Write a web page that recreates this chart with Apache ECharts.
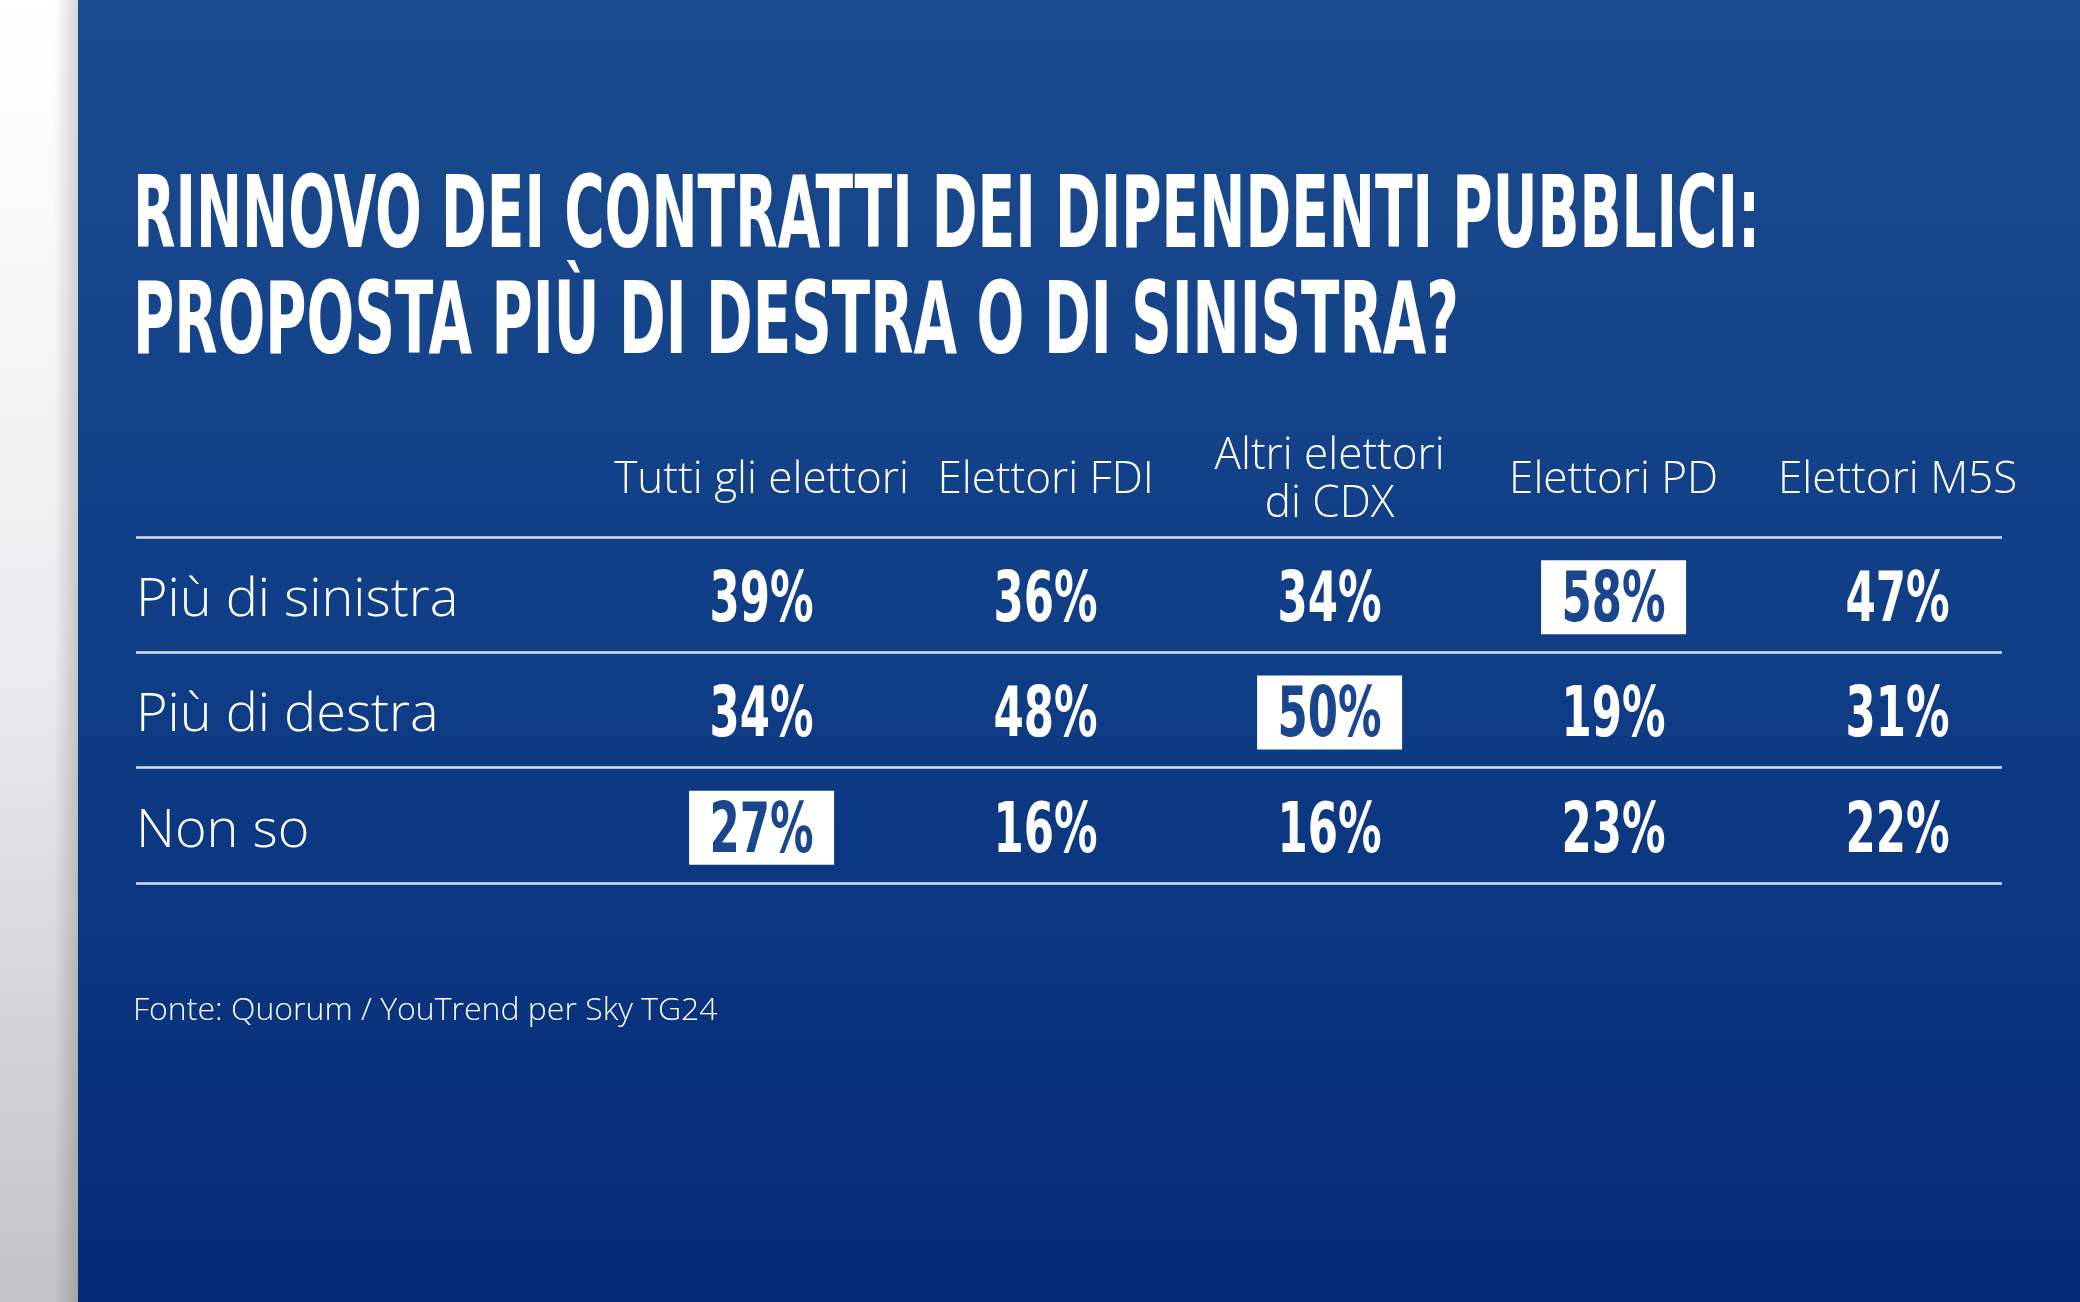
<!DOCTYPE html>
<html>
<head>
<meta charset="utf-8">
<script src="https://cdn.jsdelivr.net/npm/echarts@6/dist/echarts.min.js"></script>
<style>
html,body{margin:0;padding:0;background:#fff;}
#chart{width:2080px;height:1302px;}
</style>
</head>
<body>
<div id="chart"></div>
<script>
// ---- data ----
const titleLines = ['RINNOVO DEI CONTRATTI DEI DIPENDENTI PUBBLICI:', 'PROPOSTA PIÙ DI DESTRA O DI SINISTRA?'];
const groups = ['Tutti gli elettori', 'Elettori FDI', 'Altri elettori\ndi CDX', 'Elettori PD', 'Elettori M5S'];
const answers = ['Più di sinistra', 'Più di destra', 'Non so'];
const piuDiSinistra = [39, 36, 34, 58, 47];
const piuDiDestra = [34, 48, 50, 19, 31];
const nonSo = [27, 16, 16, 23, 22];
const sourceText = 'Fonte: Quorum / YouTrend per Sky TG24';

// ---- build ----
const rows = [piuDiSinistra, piuDiDestra, nonSo];
const cells = [];
rows.forEach(function (vals, r) {
  const mx = Math.max.apply(null, vals);
  vals.forEach(function (v, c) {
    cells.push([c, r, v, v === mx ? 1 : 0]);
  });
});

const condFont = '"DejaVu Sans Condensed", "Liberation Sans Narrow", sans-serif';
const textFont = '"Open Sans", "Noto Sans", sans-serif';

const cv = document.createElement('canvas').getContext('2d');
function measure(txt, font) { cv.font = font; return cv.measureText(txt).width; }

const titleFont = 'bold 100px ' + condFont;
const t1Scale = 1627 / measure(titleLines[0], titleFont);
const t2Scale = 1326 / measure(titleLines[1], titleFont);
const valFont = 'bold 70px ' + condFont;
const valScale = 312 / (measure('39%', valFont) + measure('58%', valFont) + measure('47%', valFont));

const chart = echarts.init(document.getElementById('chart'), null, { renderer: 'canvas' });

const option = {
  animation: false,
  backgroundColor: '#ffffff',
  graphic: [
    { type: 'rect', z: -10, shape: { x: 0, y: 0, width: 80, height: 1302 },
      style: { fill: { type: 'linear', x: 0, y: 0, x2: 0, y2: 1, colorStops: [
        { offset: 0, color: '#ffffff' }, { offset: 0.5, color: '#ececee' }, { offset: 1, color: '#c3c3c7' }] } } },
    { type: 'rect', z: -9, shape: { x: 54, y: 0, width: 24, height: 1302 },
      style: { fill: { type: 'linear', x: 0, y: 0, x2: 1, y2: 0, colorStops: [
        { offset: 0, color: 'rgba(0,0,0,0)' }, { offset: 1, color: 'rgba(0,0,0,0.16)' }] } } },
    { type: 'rect', z: -8, shape: { x: 78, y: 0, width: 2002, height: 1302 },
      style: { fill: { type: 'linear', x: 0, y: 0, x2: 0, y2: 1, colorStops: [
        { offset: 0, color: '#1b4b8e' }, { offset: 0.5, color: '#0f3d86' }, { offset: 1, color: '#052b77' }] } } },
    { type: 'text', z: 10, x: 133, y: 221, scaleX: t1Scale,
      style: { text: titleLines[0], x: 0, y: 0, font: titleFont, fill: '#ffffff', textAlign: 'left', textVerticalAlign: 'middle' } },
    { type: 'text', z: 10, x: 133, y: 327, scaleX: t2Scale,
      style: { text: titleLines[1], x: 0, y: 0, font: titleFont, fill: '#ffffff', textAlign: 'left', textVerticalAlign: 'middle' } },
    { type: 'text', z: 10, x: 133, y: 1011,
      style: { text: sourceText, x: 0, y: 0, font: '350 32px ' + textFont, fill: '#ffffff', textAlign: 'left', textVerticalAlign: 'middle' } }
  ],
  grid: [
    { left: 136, right: 78, top: 537, height: 346, containLabel: false },
    { left: 619.6, width: 1420, top: 537, height: 346, containLabel: false }
  ],
  xAxis: [
    { gridIndex: 0, type: 'value', min: 0, max: 1, show: false },
    { gridIndex: 1, type: 'category', data: groups, position: 'top', z: 3,
      axisLine: { show: false }, axisTick: { show: false }, splitLine: { show: false },
      axisLabel: { interval: 0, margin: 57, color: '#ffffff', fontFamily: textFont, fontWeight: 300, fontSize: 44, lineHeight: 48,
        verticalAlign: 'middle', align: 'center' } }
  ],
  yAxis: [
    { gridIndex: 0, type: 'category', data: answers, inverse: true, z: 3,
      axisLine: { show: false }, axisTick: { show: false },
      splitLine: { show: true, lineStyle: { color: '#d3e0f5', width: 2.5 } },
      axisLabel: { inside: true, margin: 0, verticalAlign: 'middle',
        formatter: function (v) { return '{a|' + v + '}'; },
        rich: { a: { color: '#ffffff', fontFamily: textFont, fontWeight: 350, fontSize: 54, padding: [12, 0, 0, 0] } } } },
    { gridIndex: 1, type: 'category', data: answers, inverse: true, show: false }
  ],
  series: [{
    type: 'custom',
    xAxisIndex: 1, yAxisIndex: 1,
    z: 10,
    data: cells,
    encode: { x: 0, y: 1 },
    renderItem: function (params, api) {
      const p = api.coord([api.value(0), api.value(1)]);
      const v = api.value(2);
      const hi = api.value(3) === 1;
      const children = [];
      if (hi) {
        children.push({ type: 'rect', shape: { x: p[0] - 72.5, y: p[1] - 37 + 2.5, width: 145, height: 74 },
          style: { fill: '#ffffff' } });
      }
      children.push({ type: 'text', x: p[0], y: p[1] + 8, scaleX: valScale,
        style: { text: v + '%', x: 0, y: 0, font: valFont, fill: hi ? '#1a468e' : '#ffffff',
          textAlign: 'center', textVerticalAlign: 'middle' } });
      return { type: 'group', children: children };
    }
  }]
};
chart.setOption(option);
</script>
</body>
</html>
